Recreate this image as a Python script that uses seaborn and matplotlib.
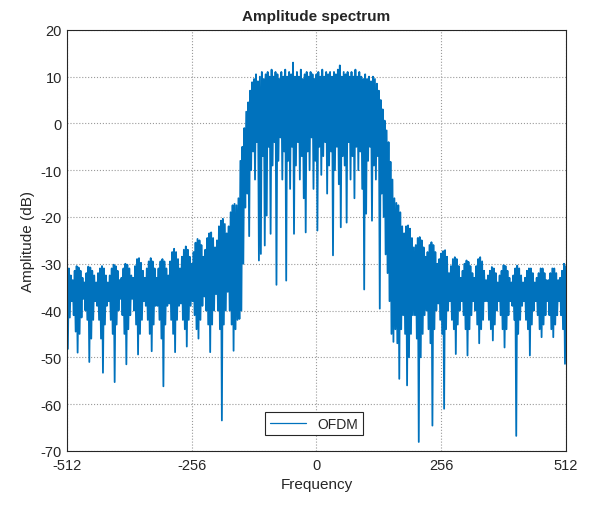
import matplotlib
matplotlib.use("Agg")
import matplotlib.pyplot as plt
import numpy as np
import seaborn as sns

# Left side lobes: f = -512 .. -158
amp_left = [
    -30.1, -48.2, -31, -41.5, -32.5, -38, -33.5, -41, -31.5, -44.5, -30.5, -49, -30.8, -45, -31.5, -41.5,
    -33, -37.5, -34, -40, -32, -42, -30.6, -51, -30.8, -46, -31.5, -42, -32.5, -38, -34, -39,
    -32, -42, -31, -46, -30.5, -53.3, -31, -43, -32.5, -39, -34, -38, -32.5, -42, -31, -45,
    -30.2, -55.3, -30.5, -43, -31.5, -40, -33.5, -37.5, -33, -41, -31, -45, -30, -51.5, -30.2, -44,
    -31, -41, -32.5, -37.5, -33, -40, -30.5, -43, -29, -49.4, -28.8, -45, -29.8, -42, -31.5, -38,
    -33, -39, -31, -42, -29.5, -45, -28.8, -48.7, -29.5, -43, -31, -39, -33, -39, -31, -42,
    -29.5, -46, -29, -56.2, -29.5, -43, -31, -39, -32.5, -38.5, -29.5, -42, -27.5, -45, -26.8, -48.9,
    -27.5, -42, -29, -39, -31, -38.5, -28.5, -42, -27, -44, -26.3, -47.7, -27, -42, -28.5, -39,
    -30, -38, -27.5, -41, -25.5, -44, -24.7, -46, -25, -42, -26, -39, -28.5, -37, -27, -40,
    -24.5, -43, -23.5, -48.9, -23.3, -43, -24.5, -40, -26.5, -36.5, -25, -40, -22, -44, -20.8, -63.5,
    -20.4, -43, -21.5, -40, -23.5, -36, -22, -40, -19, -43, -17.5, -48.6, -17.2, -44, -17.5, -42,
    -16, -41.8,
]
# Occupied band: f = -156 .. 156
amp_band = [
    -8, -40, -5, -30, -1, -18, 2.5, -15, 4.5, -24.1, 7, -10, 8.8, -6, 9.5, -12,
    10.5, -4, 9, -29.3, 10, -27.9, 11, -7, 9.5, -26.1, 10.5, -19.7, 11, -5, 10, -23.6,
    11.5, -9, 10, -4, 11, -34.5, 10.5, -8, 9.5, -3, 11, -12, 10, -6, 11.5, -33.6,
    10, -8, 11, -14, 10.5, -5, 13, -23.6, 10, -9, 11, -4, 10, -12, 11.5, -7,
    9.5, -16, 10.5, -23.3, 11, -6, 10, -10, 11, -3, 10.5, -14, 9.5, -8, 10.5, -22.9,
    11, -5, 10, -11, 11.5, -7, 10, -4, 11, -15, 10.5, -9, 11, -6, 10, -28.2,
    11, -10, 10.5, -5, 11.5, -13, 12.4, -22.2, 10, -7, 11, -9, 10.5, -21.2, 11, -4,
    10, -12, 11, -7, 10, -16, 11.5, -5, 10, -10, 11, -6, 10, -14, 9.5, -35.5,
    10.5, -19.3, 9.5, -8, 10, -5, 9, -20.8, 10, -9, 9.5, -12, 8.5, -7, 7, -39.6,
    5, -15, 3, -20, 0.6, -28, -1.5, -32, -4, -38, -8.2, -45, -12,
]
# Right side lobes: f = 158 .. 512
amp_right = [
    -46.7, -16, -44, -17, -47, -17.5, -54.6, -19, -44, -22, -41, -23.5, -45, -22, -56, -21.8,
    -50, -22.5, -45, -24.5, -41, -26.5, -41, -26, -46, -24.5, -68.1, -24.3, -50, -25, -45, -26.5,
    -41, -28.5, -40, -27.5, -44, -26, -47, -25.4, -64.6, -26, -44, -27.5, -40, -30, -38.5, -29,
    -42, -27.8, -45, -27.3, -61, -27.1, -44, -28.5, -40, -32, -38, -30.5, -42, -29, -44, -28.6,
    -49.3, -29, -43, -30.5, -40, -33, -38, -31.5, -41, -30, -44, -29.3, -49.6, -29.6, -44, -30.5,
    -41, -32, -38, -33, -40, -30.5, -43, -29, -47, -28.6, -44, -29.5, -42, -31.5, -38, -33.5,
    -38, -32.5, -42, -31.5, -44, -30.7, -46.4, -31, -43, -32, -40, -34, -38, -32.5, -41, -31.5,
    -44, -30.3, -47.9, -30.5, -44, -31.5, -41, -33, -38, -34, -39, -32.5, -42, -31, -66.8, -30.4,
    -45, -31, -42, -32.5, -39, -34, -38, -33, -42, -31.5, -44, -31, -49.6, -31, -43, -32,
    -40, -34, -38, -33, -41, -32, -44, -31, -45.7, -31, -43, -32, -41, -33.5, -38, -33.5,
    -41, -32, -44, -31, -45.7, -31, -43, -32, -41, -33.5, -38, -33, -41, -31.5, -44, -30,
    -51.4, -30.5,
]
freq_step = 2
freq_start, freq_stop = -512, 512
x_ticks = [-512, -256, 0, 256, 512]
y_ticks = [-70, -60, -50, -40, -30, -20, -10, 0, 10, 20]

sns.set_style("white")
plt.rcParams["font.family"] = ["Liberation Sans", "DejaVu Sans"]
plt.rcParams["axes.unicode_minus"] = False

freq = np.arange(freq_start, freq_stop + 1, freq_step)
amp_db = np.array(amp_left + amp_band + amp_right)

fig = plt.figure(figsize=(5.92, 5.06), dpi=100)
ax = fig.add_axes([0.113, 0.107, 0.843, 0.832])

sns.lineplot(x=freq, y=amp_db, ax=ax, color="#0072BD", linewidth=1.3,
             sort=False, estimator=None, label="OFDM")

ax.set_xlim(-512, 512)
ax.set_ylim(-70, 20)
ax.set_xticks(x_ticks)
ax.set_yticks(y_ticks)
ax.tick_params(direction="in", length=4, width=0.8, colors="#262626",
               labelsize=10.5, top=False, right=False)
ax.tick_params(axis="x", pad=5)
ax.grid(True, linestyle=":", color="#9a9a9a", linewidth=0.8)
ax.set_axisbelow(True)
for s in ax.spines.values():
    s.set_color("#262626")
    s.set_linewidth(0.8)

ax.set_xlabel("Frequency", fontsize=11, color="#262626")
ax.set_ylabel("Amplitude (dB)", fontsize=11, color="#262626")
ax.set_title("Amplitude spectrum", fontsize=11, fontweight="bold", pad=7)

leg = ax.legend(loc="lower center", bbox_to_anchor=(0.495, 0.02), fontsize=10,
                fancybox=False, framealpha=1, edgecolor="#262626",
                handlelength=2.6, borderpad=0.35)
leg.get_frame().set_linewidth(0.8)
for h in leg.get_lines():
    h.set_linewidth(0.9)

fig.savefig("out.png", dpi=100)
